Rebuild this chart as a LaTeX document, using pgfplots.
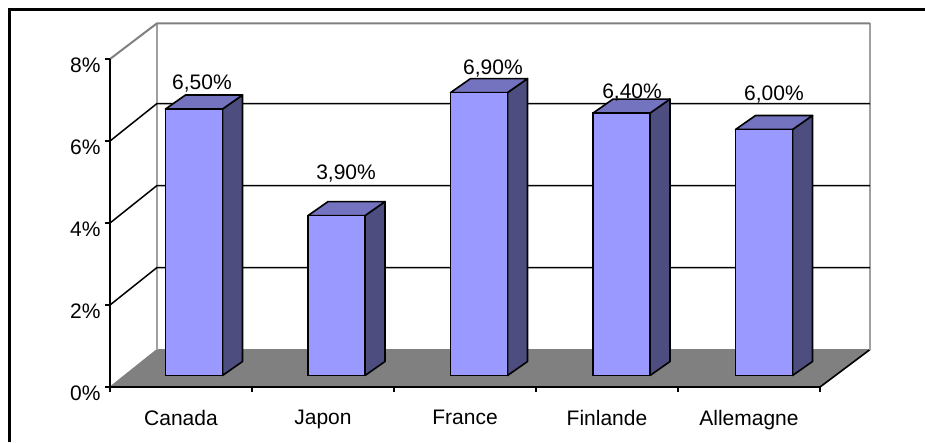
\documentclass[border=0pt]{standalone}
\usepackage{fontspec}
\setmainfont{Liberation Sans}
\usepackage{pgfplots}
\usepackage{pgfplotstable}
\pgfplotsset{compat=1.18}

\definecolor{barfront}{HTML}{9999FF}
\definecolor{bartop}{HTML}{7373BF}
\definecolor{barside}{HTML}{4D4D80}
\definecolor{floorgrey}{HTML}{808080}
\definecolor{wallgrey}{HTML}{A0A0A0}

% i = bar position, v = percent, lx/ly = centre of the value label
\pgfplotstableread{
i v   lx    ly
0 6.5 0.056 7.115
1 3.9 1.067 4.919
2 6.9 2.098 7.493
3 6.4 3.074 6.895
4 6.0 4.070 6.858
}\rates

\pgfplotsset{
  chartbox/.style={
    scale only axis, width=710pt, height=328pt,
    clip=false, ymin=0, ymax=8,
  },
  side/.style={fill=barside, draw=black, line width=1.6pt, line join=round},
  top/.style={fill=bartop, draw=black, line width=1.6pt, line join=round},
}

\begin{document}
\begin{tikzpicture}[x=1pt,y=1pt]
\useasboundingbox (-110,-55) rectangle (815,387);
\draw[line width=2.4pt] (-100.5,-55) -- (-100.5,377.5) -- (815,377.5);

% floor, walls and the axis
\begin{axis}[
  chartbox,
  xmin=0, xmax=5,
  axis x line=bottom, axis y line=left,
  x axis line style={-}, y axis line style={-},
  axis line style={line width=1.6pt},
  axis on top,
  tick style={black, line width=1.4pt},
  tick align=outside,
  major tick length=5pt,
  xtick={0,1,2,3,4,5},
  x tick label as interval,
  xticklabels={Canada,Japon,France,Finlande,Allemagne},
  ytick={0,2,4,6,8},
  yticklabels={0\%,2\%,4\%,6\%,8\%},
  tick label style={font=\fontsize{21}{24}\selectfont},
  x tick label style={yshift=-15pt},
  y tick label style={yshift=-6pt, xshift=-1pt},
]
\addplot[fill=floorgrey, draw=floorgrey, line width=1pt]
  coordinates {(0,0) (0.331,0.9146) (5.352,0.9146) (5,0)} -- cycle;
\addplot[black, line width=1.6pt] coordinates {(5,0) (5.352,0.9146)};
\addplot[wallgrey, line width=2pt] coordinates {(0.331,0.9146) (0.331,8.871)};
\addplot[wallgrey, line width=2pt] coordinates {(5.352,0.9146) (5.352,8.871)};
\addplot[floorgrey, line width=2pt] coordinates {(0,8) (0.331,8.871) (5.352,8.871)};
\addplot[black, line width=1.5pt] coordinates {(0,6) (0.331,6.9146) (5.352,6.9146)};
\addplot[black, line width=1.5pt] coordinates {(0,4) (0.331,4.9146) (5.352,4.9146)};
\addplot[black, line width=1.5pt] coordinates {(0,2) (0.331,2.9146) (5.352,2.9146)};
\end{axis}

% bars stand a little behind the front edge of the floor
\begin{axis}[
  chartbox,
  at={(0pt,11.5pt)},
  xmin=-0.58947, xmax=4.39298,
  hide axis,
]
\addplot[side] coordinates {(0.2,0) (0.3404,0.3415) (0.3404,6.8415) (0.2,6.5)} -- cycle;
\addplot[top]  coordinates {(-0.2,6.5) (-0.0596,6.8415) (0.3404,6.8415) (0.2,6.5)} -- cycle;
\addplot[side] coordinates {(1.2,0) (1.3404,0.3415) (1.3404,4.2415) (1.2,3.9)} -- cycle;
\addplot[top]  coordinates {(0.8,3.9) (0.9404,4.2415) (1.3404,4.2415) (1.2,3.9)} -- cycle;
\addplot[side] coordinates {(2.2,0) (2.3404,0.3415) (2.3404,7.2415) (2.2,6.9)} -- cycle;
\addplot[top]  coordinates {(1.8,6.9) (1.9404,7.2415) (2.3404,7.2415) (2.2,6.9)} -- cycle;
\addplot[side] coordinates {(3.2,0) (3.3404,0.3415) (3.3404,6.7415) (3.2,6.4)} -- cycle;
\addplot[top]  coordinates {(2.8,6.4) (2.9404,6.7415) (3.3404,6.7415) (3.2,6.4)} -- cycle;
\addplot[side] coordinates {(4.2,0) (4.3404,0.3415) (4.3404,6.3415) (4.2,6)} -- cycle;
\addplot[top]  coordinates {(3.8,6) (3.9404,6.3415) (4.3404,6.3415) (4.2,6)} -- cycle;

\addplot[ybar, bar width=57pt, bar shift=0pt, fill=barfront, draw=black, line width=1.6pt]
  table[x=i, y=v] {\rates};

\addplot[draw=none, mark=none,
  point meta=\thisrow{v},
  nodes near coords={\pgfmathprintnumber[fixed,fixed zerofill,precision=2,use comma,assume math mode=true]{\pgfplotspointmeta}\%},
  nodes near coords style={anchor=center, inner sep=0pt, font=\fontsize{21}{24}\selectfont},
] table[x=lx, y=ly] {\rates};
\end{axis}
\end{tikzpicture}
\end{document}
